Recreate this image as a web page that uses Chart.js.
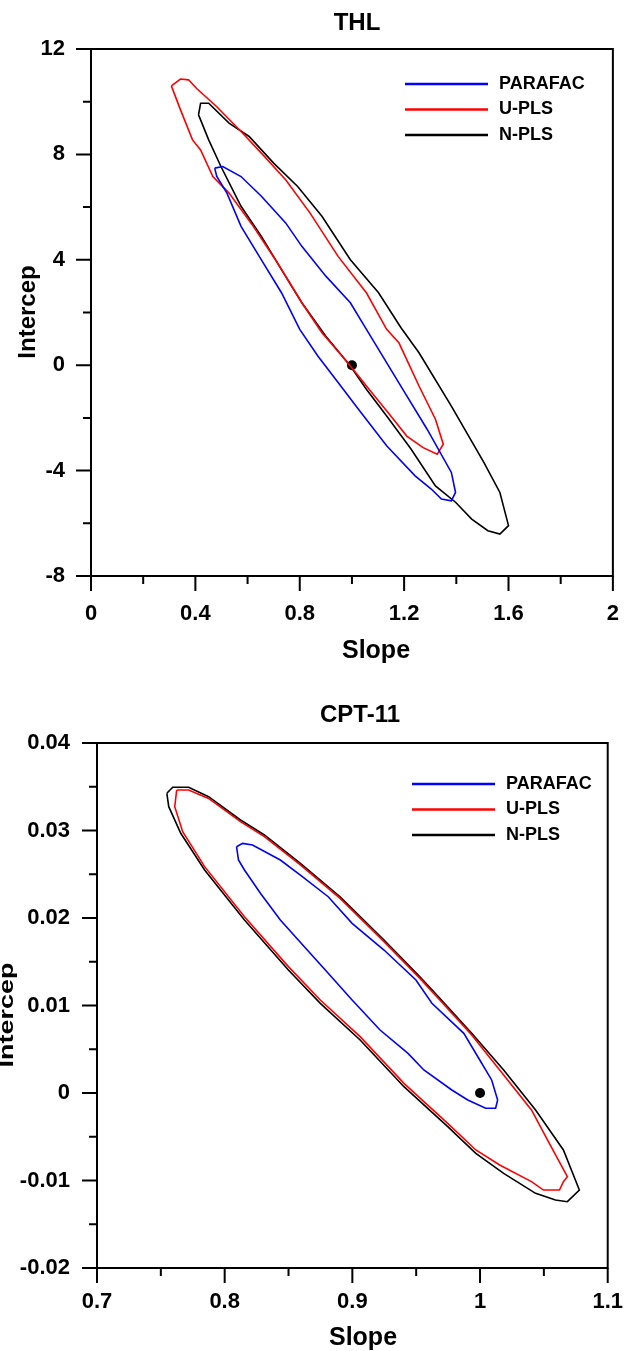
<!DOCTYPE html>
<html>
<head>
<meta charset="utf-8">
<script src="https://cdn.jsdelivr.net/npm/chart.js@4.4.0/dist/chart.umd.min.js"></script>
<style>
  html, body { margin: 0; padding: 0; background: #fff; }
  canvas { position: absolute; left: 0; }
  #thlChart { top: 0; }
  #cptChart { top: 675px; }
</style>
</head>
<body>
<canvas id="thlChart" width="644" height="675"></canvas>
<canvas id="cptChart" width="644" height="676"></canvas>
<script>
const FONT = 'Arial, "Liberation Sans", sans-serif';

// ---- THL panel ----
const thlSlopeTicks = [0, 0.4, 0.8, 1.2, 1.6, 2];
const thlSlopeLabels = ['0', '0.4', '0.8', '1.2', '1.6', '2'];
const thlSlopeMinor = [0.2, 0.6, 1.0, 1.4, 1.8];
const thlInterTicks = [-8, -4, 0, 4, 8, 12];
const thlInterLabels = ['-8', '-4', '0', '4', '8', '12'];
const thlInterMinor = [-6, -2, 2, 6, 10];

// [slope, intercept] points
const thlParafac = [[0.474,7.48],[0.505,7.54],[0.575,7.16],[0.653,6.41],[0.746,5.40],[0.808,4.51],[0.900,3.38],[0.994,2.37],[1.048,1.48],[1.102,0.60],[1.195,-0.92],[1.288,-2.43],[1.381,-4.07],[1.397,-4.83],[1.381,-5.15],[1.343,-5.08],[1.304,-4.70],[1.242,-4.20],[1.133,-3.06],[1.025,-1.67],[0.947,-0.66],[0.870,0.34],[0.800,1.36],[0.730,2.75],[0.653,4.00],[0.575,5.27],[0.521,6.53],[0.482,7.16],[0.474,7.48]];
const thlUpls = [[0.308,10.60],[0.343,10.86],[0.374,10.83],[0.405,10.50],[0.482,9.81],[0.575,8.87],[0.653,8.05],[0.746,7.04],[0.839,5.78],[0.947,4.13],[1.056,2.74],[1.133,1.36],[1.180,0.85],[1.257,-0.79],[1.320,-2.05],[1.350,-3.00],[1.327,-3.38],[1.273,-3.13],[1.210,-2.69],[1.149,-1.93],[1.071,-0.98],[1.025,-0.41],[0.963,0.34],[0.885,1.23],[0.808,2.37],[0.715,3.88],[0.622,5.27],[0.529,6.53],[0.467,7.16],[0.420,8.17],[0.389,8.55],[0.343,9.69],[0.308,10.60]];
const thlNpls = [[0.412,9.50],[0.420,9.94],[0.451,9.94],[0.529,9.19],[0.606,8.68],[0.700,7.67],[0.792,6.78],[0.885,5.65],[0.994,4.00],[1.102,2.75],[1.188,1.42],[1.257,0.47],[1.381,-1.55],[1.506,-3.70],[1.567,-4.83],[1.600,-6.09],[1.567,-6.41],[1.521,-6.28],[1.459,-5.84],[1.397,-5.20],[1.320,-4.58],[1.227,-3.19],[1.133,-1.93],[1.056,-0.92],[0.994,-0.03],[0.900,1.10],[0.808,2.37],[0.730,3.63],[0.653,4.89],[0.575,6.03],[0.498,7.54],[0.451,8.55],[0.420,9.31],[0.412,9.50]];
const thlIdeal = [[1, 0]];

// ---- CPT-11 panel ----
const cptSlopeTicks = [0.7, 0.8, 0.9, 1.0, 1.1];
const cptSlopeLabels = ['0.7', '0.8', '0.9', '1', '1.1'];
const cptSlopeMinor = [0.75, 0.85, 0.95, 1.05];
const cptInterTicks = [-0.02, -0.01, 0, 0.01, 0.02, 0.03, 0.04];
const cptInterLabels = ['-0.02', '-0.01', '0', '0.01', '0.02', '0.03', '0.04'];
const cptInterMinor = [-0.015, -0.005, 0.005, 0.015, 0.025, 0.035];

const cptParafac = [[0.8093,0.02815],[0.8140,0.02853],[0.8218,0.02834],[0.8436,0.02663],[0.8593,0.02491],[0.8811,0.02243],[0.8998,0.01939],[0.9248,0.01634],[0.9498,0.01291],[0.9623,0.01025],[0.9873,0.00682],[0.9998,0.00377],[1.0091,0.00149],[1.0138,-0.0008],[1.0122,-0.00175],[1.0044,-0.00175],[0.9904,-0.0008],[0.9779,0.00034],[0.9560,0.00263],[0.9436,0.00453],[0.9217,0.0072],[0.8998,0.01063],[0.8811,0.01368],[0.8624,0.01672],[0.8436,0.01977],[0.8280,0.02282],[0.8155,0.02549],[0.8108,0.02663],[0.8093,0.02815]];
const cptUpls = [[0.7624,0.03463],[0.7718,0.03463],[0.7874,0.03366],[0.8124,0.03101],[0.8311,0.02930],[0.8593,0.02606],[0.8904,0.02224],[0.9248,0.01730],[0.9529,0.01310],[0.9685,0.01063],[0.9935,0.00663],[1.0154,0.00263],[1.0403,-0.00194],[1.0528,-0.00537],[1.0684,-0.00956],[1.0653,-0.01013],[1.0622,-0.01109],[1.0497,-0.01109],[1.0403,-0.01013],[1.0154,-0.00823],[0.9967,-0.00651],[0.9747,-0.00347],[0.9404,0.00110],[0.9061,0.00644],[0.8749,0.01063],[0.8499,0.01444],[0.8155,0.02015],[0.7843,0.02587],[0.7671,0.02987],[0.7609,0.03272],[0.7624,0.03463]];
const cptNpls = [[0.7547,0.03425],[0.7593,0.03494],[0.7718,0.03494],[0.7874,0.03386],[0.8124,0.0312],[0.8311,0.02949],[0.8593,0.02625],[0.8904,0.02243],[0.9248,0.01749],[0.9529,0.01329],[0.9685,0.01082],[0.9935,0.00682],[1.0185,0.00263],[1.0435,-0.00194],[1.0653,-0.00651],[1.0778,-0.01109],[1.0684,-0.01242],[1.0591,-0.01223],[1.0435,-0.01147],[1.0185,-0.00918],[0.9967,-0.00689],[0.9747,-0.00385],[0.9404,0.00072],[0.9061,0.00606],[0.8749,0.01025],[0.8499,0.01406],[0.8155,0.01977],[0.7843,0.02549],[0.7656,0.02968],[0.7562,0.03272],[0.7547,0.03425]];
const cptIdeal = [[1, 0]];

const toXY = pts => pts.map(p => ({ x: p[0], y: p[1] }));

// frame, minor/major tick marks, legend and the texts around the plot
const decorations = {
  id: 'decorations',
  afterDraw(chart, args, o) {
    const { ctx, chartArea: a, scales: { x, y } } = chart;
    ctx.save();
    ctx.strokeStyle = '#000';
    ctx.lineWidth = 2;
    ctx.strokeRect(a.left, a.top, a.right - a.left, a.bottom - a.top);

    ctx.beginPath();
    o.xMajor.forEach(v => { const p = x.getPixelForValue(v); ctx.moveTo(p, a.bottom); ctx.lineTo(p, a.bottom + 15); });
    o.xMinor.forEach(v => { const p = x.getPixelForValue(v); ctx.moveTo(p, a.bottom); ctx.lineTo(p, a.bottom + 8); });
    o.yMajor.forEach(v => { const p = y.getPixelForValue(v); ctx.moveTo(a.left, p); ctx.lineTo(a.left - 15, p); });
    o.yMinor.forEach(v => { const p = y.getPixelForValue(v); ctx.moveTo(a.left, p); ctx.lineTo(a.left - 8, p); });
    ctx.stroke();

    // legend
    ctx.font = 'bold 18px ' + FONT;
    ctx.textBaseline = 'middle';
    ctx.textAlign = 'left';
    ctx.fillStyle = '#000';
    ctx.lineWidth = 2.5;
    chart.data.datasets.filter(d => d.label).forEach((d, i) => {
      const ly = o.legend.y + i * o.legend.gap;
      ctx.strokeStyle = d.borderColor;
      ctx.beginPath();
      ctx.moveTo(o.legend.x, ly);
      ctx.lineTo(o.legend.x + 83, ly);
      ctx.stroke();
      ctx.fillText(d.label, o.legend.x + 94, ly);
    });

    // titles
    ctx.textAlign = 'center';
    ctx.font = 'bold 24px ' + FONT;
    ctx.fillText(o.title.text, o.title.x, o.title.y);
    ctx.font = 'bold 25px ' + FONT;
    ctx.fillText(o.xTitle.text, o.xTitle.x, o.xTitle.y);
    ctx.translate(o.yTitle.x, o.yTitle.y);
    ctx.rotate(-Math.PI / 2);
    ctx.scale(1, o.yTitle.squash);
    ctx.textBaseline = 'alphabetic';
    ctx.font = 'bold ' + o.yTitle.size + 'px ' + FONT;
    ctx.fillText(o.yTitle.text, 0, 0);
    ctx.restore();
  }
};

function contour(label, pts, color) {
  return {
    label: label,
    data: toXY(pts),
    showLine: true,
    borderColor: color,
    borderWidth: 1.6,
    pointRadius: 0,
    fill: false,
    tension: 0
  };
}

function makeAxis(min, max, ticks, labels, padding, fit) {
  return {
    type: 'linear',
    min: min,
    max: max,
    grid: { display: false, drawTicks: false, tickLength: 0 },
    border: { display: false },
    afterBuildTicks: scale => { scale.ticks = ticks.map(v => ({ value: v })); },
    afterFit: fit,
    ticks: {
      autoSkip: false,
      maxRotation: 0,
      padding: padding,
      color: '#000',
      font: { family: FONT, size: 22, weight: 'bold' },
      callback: (value, index) => labels[index]
    }
  };
}

function makeChart(id, sets, ideal, xAxis, yAxis, padding, deco) {
  return new Chart(document.getElementById(id), {
    type: 'scatter',
    data: {
      datasets: sets.concat([{
        data: toXY(ideal),
        pointRadius: 5,
        pointBackgroundColor: '#000',
        pointBorderWidth: 0,
        showLine: false
      }])
    },
    options: {
      responsive: false,
      animation: false,
      layout: { padding: padding },
      scales: { x: xAxis, y: yAxis },
      plugins: {
        legend: { display: false },
        tooltip: { enabled: false },
        decorations: deco
      }
    },
    plugins: [decorations]
  });
}

makeChart('thlChart',
  [contour('PARAFAC', thlParafac, '#0000ff'), contour('U-PLS', thlUpls, '#ff0000'), contour('N-PLS', thlNpls, '#000000')],
  thlIdeal,
  makeAxis(0, 2, thlSlopeTicks, thlSlopeLabels, 25, s => { s.height = 99; }),
  makeAxis(-8, 12, thlInterTicks, thlInterLabels, 26, s => { s.width = 91; }),
  { left: 0, top: 49, right: 24, bottom: 0 },
  {
    xMajor: thlSlopeTicks, xMinor: thlSlopeMinor, yMajor: thlInterTicks, yMinor: thlInterMinor,
    legend: { x: 405, y: 84, gap: 25.5 },
    title: { text: 'THL', x: 357, y: 23 },
    xTitle: { text: 'Slope', x: 376, y: 651 },
    yTitle: { text: 'Intercep', x: 35, y: 312, size: 24, squash: 1 }
  });

makeChart('cptChart',
  [contour('PARAFAC', cptParafac, '#0000ff'), contour('U-PLS', cptUpls, '#ff0000'), contour('N-PLS', cptNpls, '#000000')],
  cptIdeal,
  makeAxis(0.7, 1.1, cptSlopeTicks, cptSlopeLabels, 21, s => { s.height = 83; }),
  makeAxis(-0.02, 0.04, cptInterTicks, cptInterLabels, 27, s => { s.width = 97; }),
  { left: 0, top: 68, right: 20, bottom: 0 },
  {
    xMajor: cptSlopeTicks, xMinor: cptSlopeMinor, yMajor: cptInterTicks, yMinor: cptInterMinor,
    legend: { x: 412, y: 109, gap: 25.5 },
    title: { text: 'CPT-11', x: 360, y: 40 },
    xTitle: { text: 'Slope', x: 363, y: 663 },
    yTitle: { text: 'Intercep', x: 13, y: 340, size: 27, squash: 0.75 }
  });
</script>
</body>
</html>
